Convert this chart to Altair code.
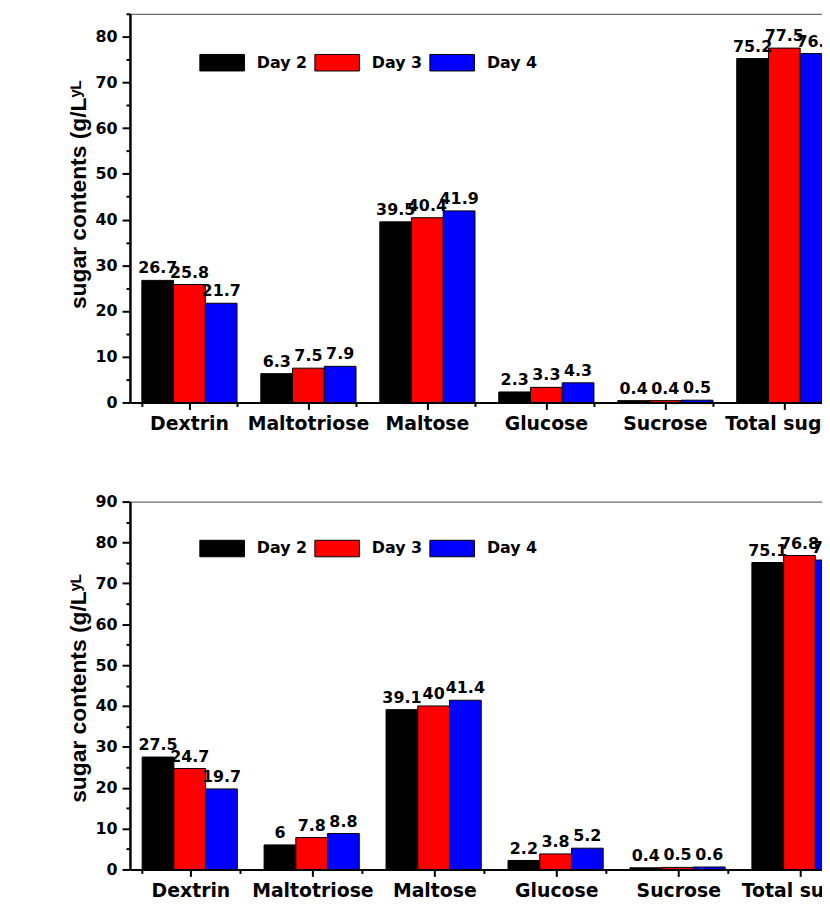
import altair as alt
import pandas as pd

categories = ["Dextrin", "Maltotriose", "Maltose", "Glucose", "Sucrose", "Total sugar"]
days = ["Day 2", "Day 3", "Day 4"]
colors = ["#000000", "#ff0000", "#0000ff"]

top_day2 = [26.7, 6.3, 39.5, 2.3, 0.4, 75.2]
top_day3 = [25.8, 7.5, 40.4, 3.3, 0.4, 77.5]
top_day4 = [21.7, 7.9, 41.9, 4.3, 0.5, 76.3]

bot_day2 = [27.5, 6, 39.1, 2.2, 0.4, 75.1]
bot_day3 = [24.7, 7.8, 40, 3.8, 0.5, 76.8]
bot_day4 = [19.7, 8.8, 41.4, 5.2, 0.6, 75.7]

FONT = "DejaVu Sans"
TFONT = "Liberation Sans"
RECT = "M-1,-0.37L1,-0.37L1,0.37L-1,0.37Z"


def make_df(series):
    rows = []
    for d, vals in zip(days, series):
        for c, v in zip(categories, vals):
            rows.append({"cat": c, "day": d, "value": v, "label": f"{v:g}"})
    return pd.DataFrame(rows)


def panel(df, ymax, width, height, legend_y, title_y):
    xscale = alt.Scale(domain=categories, paddingInner=0.2, paddingOuter=0.1)
    yscale = alt.Scale(domain=[0, ymax], nice=False)
    major_x = alt.Axis(orient="bottom", title=None, labelAngle=0, labelFont=FONT,
                       labelFontSize=19, labelFontWeight="bold", labelColor="black",
                       tickSize=7, tickWidth=2, tickColor="black", domainWidth=2,
                       domainColor="black", labelPadding=5, grid=False)
    major_y = alt.Axis(orient="left", values=list(range(0, ymax + 1, 10)),
                       title="sugar contents (g/Lʸᴸ", titleFont=TFONT, titleFontSize=23,
                       titleFontWeight="bold", titleColor="black", titleY=title_y,
                       titlePadding=5, labelFont=FONT, labelFontSize=16,
                       labelFontWeight="bold", labelColor="black", tickSize=8,
                       tickWidth=2, tickColor="black", domainWidth=2.5,
                       domainColor="black", labelPadding=5, grid=False)
    minor_x = alt.Axis(orient="bottom", tickBand="extent", labels=False, domain=False,
                       tickSize=4, tickWidth=2, tickColor="black", title=None, grid=False)
    minor_y = alt.Axis(orient="left", values=list(range(5, ymax + 1, 10)), labels=False,
                       domain=False, tickSize=4, tickWidth=2, tickColor="black",
                       title=None, grid=False)

    base = alt.Chart(df)
    bars = base.mark_bar(stroke="black", strokeWidth=1).encode(
        x=alt.X("cat:N", scale=xscale, axis=major_x, sort=categories),
        xOffset=alt.XOffset("day:N", sort=days),
        y=alt.Y("value:Q", scale=yscale, axis=major_y),
        color=alt.Color("day:N", scale=alt.Scale(domain=days, range=colors),
                        legend=alt.Legend(orient="none", legendX=70, legendY=legend_y,
                                          direction="horizontal", title=None,
                                          symbolType=RECT, symbolSize=2025,
                                          symbolStrokeColor="black", symbolStrokeWidth=1,
                                          labelFont=FONT, labelFontSize=16,
                                          labelFontWeight="bold", labelColor="black",
                                          labelOffset=12, columnPadding=5)),
    )
    labels = base.mark_text(baseline="bottom", dy=-4, font=FONT, fontSize=16,
                            fontWeight="bold", color="black").encode(
        x=alt.X("cat:N", scale=xscale, axis=None, sort=categories),
        xOffset=alt.XOffset("day:N", sort=days),
        y=alt.Y("value:Q", scale=yscale, axis=None),
        text="label:N",
    )
    minor = base.mark_point(opacity=0).encode(
        x=alt.X("cat:N", scale=xscale, axis=minor_x, sort=categories),
        y=alt.Y("value:Q", scale=yscale, axis=minor_y),
    )
    return alt.layer(bars, labels, minor).resolve_axis(
        x="independent", y="independent"
    ).properties(width=width, height=height)


top = panel(make_df([top_day2, top_day3, top_day4]), 85, 720, 392, 26, 182)
bottom = panel(make_df([bot_day2, bot_day3, bot_day4]), 90, 738, 371, 24, 188)

chart = alt.vconcat(top, bottom, spacing=100, bounds="flush").resolve_scale(
    color="independent", x="independent", y="independent"
).configure_view(stroke="#444444", strokeWidth=1).properties(
    padding={"top": 2, "left": 123, "right": 0, "bottom": 0},
    autosize=alt.AutoSizeParams(type="none", contains="padding"),
)
# fixed page-sized canvas: the right part of the last group is cropped like the reference
chart.params = [
    alt.VariableParameter(name="width", value=821),
    alt.VariableParameter(name="height", value=896),
]

chart.save("out.html", embed_options={"renderer": "svg", "actions": False})
